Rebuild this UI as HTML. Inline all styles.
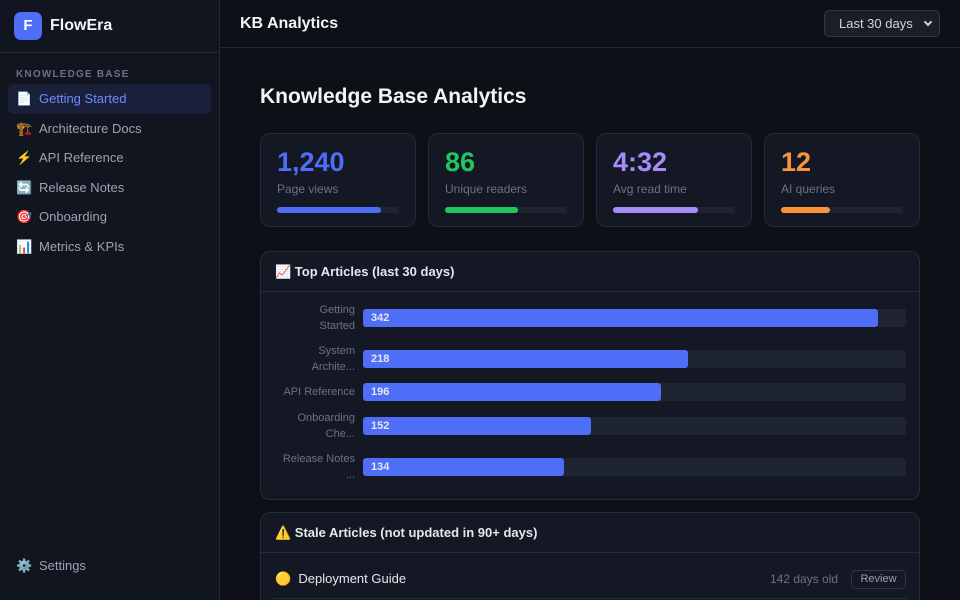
<!DOCTYPE html>
<html><head><meta charset="utf-8"><style>
*{box-sizing:border-box;margin:0;padding:0}
html,body{width:960px;height:600px;overflow:hidden}
body{background:#0d1017;font-family:"Liberation Sans","Noto Sans CJK SC",sans-serif;color:#e5e7eb;position:relative}
.side{position:absolute;left:0;top:0;width:220px;height:600px;background:#111520;border-right:1px solid #232836}
.logo{position:absolute;left:14px;top:12px;width:28px;height:28px;border-radius:7px;background:#4f6ef7;color:#fff;font-weight:bold;font-size:15px;text-align:center;line-height:28px}
.brand{position:absolute;left:50px;top:17px;font-size:16px;font-weight:bold;color:#f3f4f6}
.sep{position:absolute;left:0;top:52px;width:219px;border-top:1px solid #232836}
.kb{position:absolute;left:16px;top:69px;font-size:10px;letter-spacing:1.2px;color:#6b7280;font-weight:bold}
.nav{position:absolute;left:8px;width:203px;height:30px;border-radius:6px;font-size:13px;color:#9ca3af;line-height:30px;padding-left:8px}
.nav span{display:inline-block;width:23px;font-size:13px}
.nav.act{background:#1a2039;color:#6f8cff}
.top{position:absolute;left:220px;top:0;right:0;height:48px;border-bottom:1px solid #232836}
.top h1{position:absolute;left:20px;top:15px;font-size:16px;color:#f3f4f6}
.sel{position:absolute;right:20px;top:10px;width:116px;height:27px;border:1px solid #30364a;border-radius:5px;background:#191e29;font-size:13px;color:#d1d5db;line-height:25px;padding-left:14px}
.sel i{position:absolute;right:8px;top:8px;width:6px;height:6px;border-right:2px solid #d1d5db;border-bottom:2px solid #d1d5db;transform:rotate(45deg)}
.title{position:absolute;left:260px;top:85px;font-size:21px;font-weight:bold;color:#f3f4f6}
.card{position:absolute;top:133px;width:156px;height:94px;border:1px solid #262c3a;border-radius:10px;background:#131824}
.card b{position:absolute;left:16px;top:13px;font-size:27px}
.card p{position:absolute;left:16px;top:48px;font-size:12px;color:#6b7280}
.card .tr{position:absolute;left:16px;top:73px;width:122px;height:6px;border-radius:3px;background:#1e2430}
.card .tr div{height:6px;border-radius:3px}
.panel{position:absolute;left:260px;width:660px;border:1px solid #262c3a;border-radius:10px;background:#131824;overflow:hidden}
.ph{height:40px;border-bottom:1px solid #262c3a;font-size:13px;font-weight:bold;color:#e5e7eb;line-height:40px;padding-left:14px}
.lbl{position:absolute;right:564px;width:90px;text-align:right;font-size:11px;color:#6b7280;line-height:16px}
.track{position:absolute;left:102px;width:543px;height:18px;border-radius:3px;background:#1e2430}
.bar{height:18px;border-radius:3px;background:#4f6ef7;color:#e5e7eb;font-size:11px;font-weight:bold;line-height:18px;padding-left:8px}
</style></head><body>
<div class="side">
<div class="logo">F</div><div class="brand">FlowEra</div>
<div class="sep"></div>
<div class="kb">KNOWLEDGE BASE</div>
<div class="nav act" style="top:84px"><span>📄</span>Getting Started</div>
<div class="nav" style="top:114px"><span>🏗️</span>Architecture Docs</div>
<div class="nav" style="top:143px"><span>⚡</span>API Reference</div>
<div class="nav" style="top:173px"><span>🔄</span>Release Notes</div>
<div class="nav" style="top:202px"><span>🎯</span>Onboarding</div>
<div class="nav" style="top:232px"><span>📊</span>Metrics &amp; KPIs</div>
<div class="nav" style="top:551px"><span>⚙️</span>Settings</div>
</div>
<div class="top"><h1>KB Analytics</h1><div class="sel">Last 30 days<i></i></div></div>
<div class="title">Knowledge Base Analytics</div>
<div class="card" style="left:260px"><b style="color:#4f6ef7">1,240</b><p>Page views</p><div class="tr"><div style="width:104px;background:#4f6ef7"></div></div></div>
<div class="card" style="left:428px"><b style="color:#22c55e">86</b><p>Unique readers</p><div class="tr"><div style="width:73px;background:#22c55e"></div></div></div>
<div class="card" style="left:596px"><b style="color:#a78bfa">4:32</b><p>Avg read time</p><div class="tr"><div style="width:85px;background:#a78bfa"></div></div></div>
<div class="card" style="left:764px"><b style="color:#fb923c">12</b><p>AI queries</p><div class="tr"><div style="width:49px;background:#fb923c"></div></div></div>
<div class="panel" style="top:251px;height:249px">
<div class="ph">📈 Top Articles (last 30 days)</div>
<div class="lbl" style="top:50px">Getting<br>Started</div><div class="track" style="top:57px"><div class="bar" style="width:515px">342</div></div>
<div class="lbl" style="top:91px">System<br>Archite...</div><div class="track" style="top:98px"><div class="bar" style="width:325px">218</div></div>
<div class="lbl" style="top:132px">API Reference</div><div class="track" style="top:131px"><div class="bar" style="width:298px">196</div></div>
<div class="lbl" style="top:158px">Onboarding<br>Che...</div><div class="track" style="top:165px"><div class="bar" style="width:228px">152</div></div>
<div class="lbl" style="top:199px">Release Notes<br>...</div><div class="track" style="top:206px"><div class="bar" style="width:201px">134</div></div>
</div>
<div class="panel" style="top:512px;height:88px;border-bottom:none;border-bottom-left-radius:0;border-bottom-right-radius:0">
<div class="ph">⚠️ Stale Articles (not updated in 90+ days)</div>
<div style="position:absolute;left:14px;top:58px;font-size:13px;color:#e5e7eb">🟡&nbsp;&nbsp;Deployment Guide</div>
<div style="position:absolute;left:509px;top:59px;font-size:12px;color:#6b7280">142 days old</div>
<div style="position:absolute;left:590px;top:57px;width:55px;height:19px;border:1px solid #30364a;border-radius:5px;font-size:11px;color:#9ca3af;text-align:center;line-height:17px">Review</div>
<div style="position:absolute;left:12px;right:12px;top:85px;border-top:1px solid #262c3a"></div>
</div>
</body></html>
